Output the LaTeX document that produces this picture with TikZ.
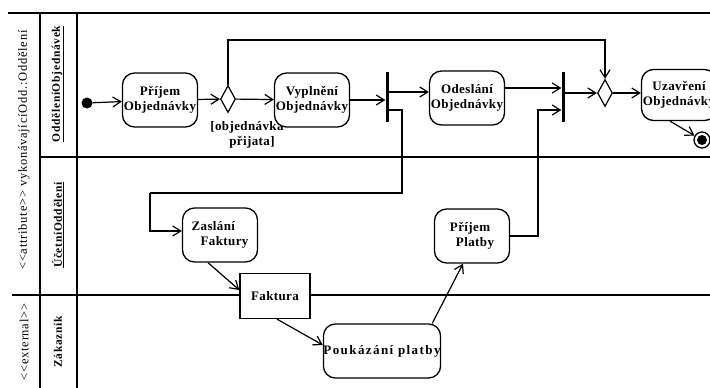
\documentclass[tikz,border=0pt]{standalone}
\usepackage{fontspec}
\setmainfont{Liberation Serif}
\newfontfamily\lblfont[LetterSpace=3]{Liberation Serif}
\newfontfamily\wideblfont[LetterSpace=11]{Liberation Serif}
\newfontfamily\headfont[LetterSpace=6]{Liberation Serif}
\usetikzlibrary{arrows.meta,shapes.geometric,calc}

\begin{document}
\begin{tikzpicture}[x=1pt,y=-1pt,
  act/.style={draw, line width=1.3pt, rounded corners=12pt, fill=white,
    minimum width=75pt, minimum height=54pt, inner sep=0pt, align=center,
    font=\lblfont\bfseries\fontsize{13}{15}\selectfont},
  obj/.style={draw, line width=1.3pt, fill=white, minimum width=70pt,
    minimum height=45pt, inner sep=0pt, font=\lblfont\bfseries\fontsize{13}{15}\selectfont},
  decision/.style={diamond, draw, line width=1.2pt, fill=white, inner sep=0pt,
    minimum width=15pt, minimum height=27pt},
  syncbar/.style={rectangle, fill=black, inner sep=0pt, minimum width=3pt, minimum height=50pt},
  flow/.style={line width=1.2pt, -{Straight Barb[length=8pt,width=10pt,line width=1.2pt]}},
  lanetext/.style={rotate=90, font=\headfont\bfseries\fontsize{11.5}{13}\selectfont},
  outertext/.style={rotate=90, font=\headfont\fontsize{12.5}{14}\selectfont},
]
\useasboundingbox (0,0) rectangle (710,388);
\clip (0,0) rectangle (710,388);

% swimlane frame
\draw[line width=2.4pt] (8,13) -- (710,13);
\draw[line width=2.2pt] (40,13) -- (40,388);
\draw[line width=1.5pt] (77,13) -- (77,388);
\draw[line width=1.3pt] (40,157) -- (710,157);
\draw[line width=2.4pt] (12,295) -- (710,295);

% lane headers
\node[outertext] (hAttr) at (24,150) {<{}<attribute>{}> vykonávajícíOdd.:Oddělení};
\node[outertext] (hExt) at (24,342) {<{}<external>{}>};
\node[lanetext] (hObj) at (58,84) {\underline{OdděleníObjednávek}};
\node[lanetext] (hUct) at (58,225) {\underline{ÚčetníOddělení}};
\node[lanetext] (hZak) at (58,342) {Zákazník};

% nodes
\node[circle, fill=black, inner sep=0pt, minimum size=11pt] (start) at (87,103) {};
\node[act] (prijem) at (160,100) {Příjem\\Objednávky};
\node[decision] (d1) at (228,99) {};
\node[font=\lblfont\bfseries\fontsize{13}{15}\selectfont, align=center] (guard) at (247,135) {[objednávka\\\hspace*{10pt}přijata]};
\node[act] (vypl) at (312,100) {Vyplnění\\Objednávky};
\node[syncbar] (bar1) at (387,97) {};
\node[act] (odes) at (467,98) {Odeslání\\Objednávky};
\node[syncbar] (bar2) at (563,97) {};
\node[decision] (d2) at (605,93) {};
\node[act, minimum height=51pt] (uzav) at (679,95) {Uzavření\\Objednávky};
\node[circle, draw, line width=1.3pt, fill=white, inner sep=0pt, minimum size=16pt] (end) at (702,140) {};
\fill (end.center) circle (5pt);

\node[act, align=left] (zasl) at (220,235) {Zaslání\\\hspace*{9pt}Faktury};
\node[obj] (fakt) at (275,296) {Faktura};
\node[act, minimum width=114pt, font=\wideblfont\bfseries\fontsize{13}{15}\selectfont] (pouk) at (382,351) {Poukázání platby};
\node[act, align=left] (plat) at (472,236) {Příjem\\\hspace*{6pt}Platby};

% route corners
\coordinate (loopL) at (228,40);
\coordinate (b1out) at (389,110);
\coordinate (b1r) at (402,110);
\coordinate (b1d) at (402,193);
\coordinate (zl) at (150,193);
\coordinate (pr) at (538,110);

% connectors
\draw[flow] (start) -- (prijem);
\draw[flow] (prijem) -- (d1);
\draw[flow] (d1) -- (vypl);
\draw[flow] (vypl.east) -- (vypl.east -| bar1.west);
\draw[flow] (bar1.east |- 0,92) -- (odes.west |- 0,92);
\draw[flow] (d1.north) -- (loopL) -| (d2.north);
\draw[line width=1.2pt] (b1out) -- (b1r) -- (b1d) -- (zl);
\draw[flow] (zl) |- ($(zasl.west)+(0,-4)$);
\draw[flow] ($(odes.east)+(0,-10)$) -- (bar2.west |- 0,88);
\draw[flow] (plat.east) -| (pr) -- (pr -| bar2.west);
\draw[flow] (bar2.east |- d2.west) -- (d2.west);
\draw[flow] (d2.east) -- (uzav.west |- d2.east);
\draw[flow] ($(uzav.south)+(-9,0)$) -- (end);
\draw[flow] ($(zasl.south)+(-12,0)$) -- ($(fakt.west)+(0,-6)$);
\draw[flow] ($(fakt.south)+(2,0)$) -- ($(pouk.west)+(0,-6)$);
\draw[flow] ($(pouk.north east)+(-9,0)$) -- ($(plat.south)+(-9,0)$);
\end{tikzpicture}
\end{document}
